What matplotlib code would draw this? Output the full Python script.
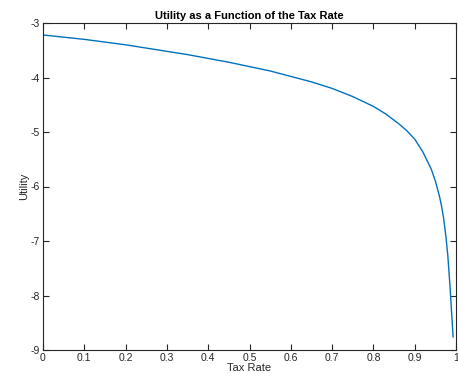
import matplotlib
matplotlib.use("Agg")
import matplotlib.pyplot as plt

# --- data ---
tax_rate = [0.00, 0.05, 0.10, 0.15, 0.20, 0.25, 0.30, 0.35, 0.40, 0.45, 0.50,
            0.55, 0.60, 0.65, 0.70, 0.75, 0.80, 0.83, 0.86, 0.88, 0.90, 0.92,
            0.94, 0.95, 0.96, 0.965, 0.97, 0.975, 0.98, 0.985, 0.99, 0.993]
utility = [-3.22, -3.26, -3.30, -3.35, -3.40, -3.46, -3.52, -3.58, -3.65, -3.72, -3.80,
           -3.88, -3.98, -4.08, -4.20, -4.35, -4.53, -4.67, -4.84, -4.97, -5.13, -5.37,
           -5.68, -5.90, -6.18, -6.36, -6.58, -6.88, -7.25, -7.78, -8.39, -8.76]

x_ticks = [0, 0.1, 0.2, 0.3, 0.4, 0.5, 0.6, 0.7, 0.8, 0.9, 1]
x_tick_labels = ["0", "0.1", "0.2", "0.3", "0.4", "0.5", "0.6", "0.7", "0.8", "0.9", "1"]
y_ticks = [-9, -8, -7, -6, -5, -4, -3]

plt.rcParams['font.family'] = ['Liberation Sans', 'DejaVu Sans']
plt.rcParams['axes.unicode_minus'] = False

fig = plt.figure(figsize=(4.58, 3.73), dpi=100)
ax = fig.add_axes([43 / 458, 23 / 373, 413 / 458, 327 / 373])

ax.plot(tax_rate, utility, color='#0072BD', linewidth=1.0)

ax.set_xlim(0, 1)
ax.set_ylim(-9, -3)
ax.set_xticks(x_ticks)
ax.set_xticklabels(x_tick_labels)
ax.set_yticks(y_ticks)

edge = '#262626'
for s in ax.spines.values():
    s.set_color(edge)
    s.set_linewidth(0.8)
ax.tick_params(direction='in', length=4, width=0.8, colors=edge, labelsize=7.5,
               top=True, right=True, pad=2)

ax.set_title("Utility as a Function of the Tax Rate", fontsize=8, fontweight='bold', pad=3)
ax.set_xlabel("Tax Rate", fontsize=8, color=edge, labelpad=0)
ax.set_ylabel("Utility", fontsize=8, color=edge, labelpad=1)

fig.savefig("out.png", dpi=100)
